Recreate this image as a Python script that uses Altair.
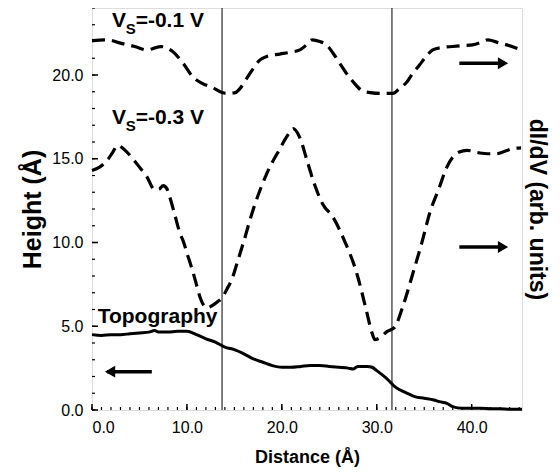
import altair as alt
import pandas as pd

# ---- data ----
topo_x = [0, 1, 2, 3, 4, 5, 6, 6.6, 7, 8, 9, 10, 11, 12, 13, 14, 15, 16, 17, 18, 19, 20,
          21, 22, 23, 24, 25, 26, 27, 27.5, 28, 29, 29.5, 30, 31, 32, 33, 33.8, 34, 35, 36,
          36.6, 37.4, 38, 39, 40, 41, 42, 43, 44, 45.3]
topo_y = [4.5, 4.45, 4.5, 4.5, 4.55, 4.6, 4.65, 4.75, 4.65, 4.65, 4.7, 4.7, 4.5, 4.25,
          4.05, 3.75, 3.6, 3.35, 3.05, 2.85, 2.65, 2.55, 2.55, 2.6, 2.65, 2.65, 2.6, 2.55,
          2.5, 2.45, 2.6, 2.6, 2.55, 2.35, 1.9, 1.35, 1.05, 0.85, 0.8, 0.7, 0.6, 0.5, 0.4,
          0.2, 0.1, 0.1, 0.1, 0.08, 0.08, 0.05, 0.05]

v01_x = [0, 1.6, 3, 4.5, 5.8, 7.2, 8.5, 9.6, 10.6, 11.6, 12.7, 13.7, 14.2, 15.1, 15.6,
         16.3, 17, 17.7, 18.4, 19.8, 20.8, 21.9, 22.6, 23.2, 24.0, 24.7, 25.4, 26.1, 26.8,
         27.5, 28.5, 29.3, 30.3, 31.7, 32.4, 33.2, 33.8, 34.5, 35.2, 35.9, 37, 38, 39,
         40.1, 41, 41.7, 42.7, 43.7, 45.2]
v01_y = [22.05, 22.1, 21.9, 21.7, 21.5, 21.7, 21.4, 20.7, 19.9, 19.5, 19.25, 18.95, 18.9,
         18.95, 19.2, 19.8, 20.4, 20.9, 21.1, 21.25, 21.35, 21.5, 21.8, 22.1, 22.0, 21.8,
         21.3, 20.7, 20.1, 19.6, 19.05, 18.95, 18.9, 18.9, 19.2, 19.6, 20.1, 20.6, 21.1,
         21.5, 21.65, 21.7, 21.75, 21.8, 21.95, 22.1, 21.95, 21.8, 21.5]

v03_x = [0, 0.8, 1.6, 2.2, 2.7, 3.3, 4.3, 5.0, 5.8, 6.6, 7.1, 7.5, 7.9, 8.2, 8.7, 9.3,
         9.6, 10.1, 10.6, 11.0, 11.4, 12.1, 12.7, 13.2, 13.7, 14.2, 14.8, 15.3, 15.9, 17,
         18.4, 19.8, 20.5, 21.2, 21.9, 22.6, 23.3, 24.3, 25.4, 26.6, 27.9, 28.9, 29.5,
         29.8, 30.3, 31, 31.9, 32.7, 33.8, 34.8, 35.6, 36.6, 37.3, 38, 38.7, 39.5, 40.8,
         41.7, 42.6, 43.5, 44.3, 45.2]
v03_y = [14.3, 14.5, 14.9, 15.4, 15.8, 15.6, 15.0, 14.5, 13.9, 13.15, 13.2, 13.4, 13.2,
         12.7, 11.7, 10.5, 10.1, 9.2, 8.3, 7.5, 6.7, 6.1, 6.25, 6.45, 6.7, 7.2, 7.9, 8.8,
         9.9, 12.0, 14.1, 15.6, 16.3, 16.8, 16.25, 15.0, 13.7, 12.3, 11.5, 10.1, 8.15,
         5.95, 4.6, 4.2, 4.3, 4.65, 4.95, 6.1, 8.15, 10.1, 11.8, 13.3, 14.4, 15.1, 15.4,
         15.5, 15.35, 15.3, 15.3, 15.45, 15.6, 15.65]

vlines = [13.7, 31.6]

# arrows: shaft start, shaft end, height, head position, head shape
arrow_x1 = [38.7, 38.7, 1.6]
arrow_x2 = [43.0, 43.0, 6.3]
arrow_y = [20.7, 9.73, 2.29]
arrow_head_x = [43.3, 43.3, 1.9]
arrow_head_shape = ["triangle-right", "triangle-right", "triangle-left"]

label_text = ["V", "S", "=-0.1 V", "V", "S", "=-0.3 V", "Topography"]
label_x = [2.1, 3.55, 4.6, 2.1, 3.55, 4.6, 0.6]
label_y = [22.85, 22.45, 22.85, 17.05, 16.65, 17.05, 5.2]
label_size = [21, 15, 21, 21, 15, 21, 21]

x_minor = list(range(0, 46))
x_major = [0, 10, 20, 30, 40]
y_minor = list(range(0, 25))
y_major = [0, 5, 10, 15, 20]

FONT = "Liberation Sans"
W, H = 430, 402

xs = alt.Scale(domain=[0, 45.3], nice=False, zero=False)
ys = alt.Scale(domain=[0, 24], nice=False, zero=False)

curves = pd.DataFrame(
    {"x": v01_x + v03_x,
     "y": v01_y + v03_y,
     "series": ["-0.1"] * len(v01_x) + ["-0.3"] * len(v03_x)}
)
topo = pd.DataFrame({"x": topo_x, "y": topo_y})
arrows = pd.DataFrame({"x1": arrow_x1, "x2": arrow_x2, "y": arrow_y,
                       "hx": arrow_head_x, "shape": arrow_head_shape})
labels = pd.DataFrame({"t": label_text, "x": label_x, "y": label_y, "s": label_size})

xn = lambda f="x": alt.X(f + ":Q", scale=xs, axis=None)
yn = lambda f="y": alt.Y(f + ":Q", scale=ys, axis=None)

vrules = alt.Chart(pd.DataFrame({"x": vlines})).mark_rule(
    color="black", strokeWidth=1).encode(x=xn())

dashed = alt.Chart(curves).mark_line(
    color="black", strokeWidth=3.2, strokeDash=[13, 7], interpolate="monotone"
).encode(
    x=xn(),
    y=alt.Y("y:Q", scale=ys, axis=alt.Axis(
        orient="right", labels=False, ticks=False, domain=False, grid=False,
        title="dI/dV (arb. units)", titleAngle=90, titleFontSize=23,
        titleFont=FONT, titleFontWeight="bold", titlePadding=2, titleColor="black")),
    detail="series:N",
)

topo_line = alt.Chart(topo).mark_line(
    color="black", strokeWidth=3, interpolate="monotone"
).encode(
    x=alt.X("x:Q", scale=xs, axis=alt.Axis(
        values=x_major, format=".1f", title="Distance (Å)", ticks=False, domain=False,
        grid=False, labelFont=FONT, labelFontSize=16, labelColor="black", labelPadding=9,
        titleFont=FONT, titleFontSize=18, titleFontWeight="bold", titleColor="black",
        titlePadding=13)),
    y=alt.Y("y:Q", scale=ys, axis=alt.Axis(
        values=y_major, format=".1f", title="Height (Å)", ticks=False, domain=False,
        grid=False, labelFont=FONT, labelFontSize=16, labelColor="black", labelPadding=9,
        titleFont=FONT, titleFontSize=25, titleFontWeight="bold", titleColor="black",
        titlePadding=6)),
)

shafts = alt.Chart(arrows).mark_rule(color="black", strokeWidth=3.5).encode(
    x=xn("x1"), x2="x2:Q", y=yn())
heads = alt.Chart(arrows).mark_point(
    filled=True, color="black", opacity=1, size=140, strokeWidth=0).encode(
    x=xn("hx"), y=yn(), shape=alt.Shape("shape:N", scale=None))

texts = alt.Chart(labels).mark_text(
    align="left", baseline="alphabetic", font=FONT, fontWeight="bold", color="black"
).encode(x=xn(), y=yn(), text="t:N", size=alt.Size("s:Q", scale=None))

xt_minor = alt.Chart(pd.DataFrame({"x": x_minor})).mark_rule(
    color="black", strokeWidth=1.2).encode(x=xn(), y=alt.value(H), y2=alt.value(H - 3))
xt_major = alt.Chart(pd.DataFrame({"x": x_major})).mark_rule(
    color="black", strokeWidth=1.5).encode(x=xn(), y=alt.value(H), y2=alt.value(H - 6))
yt_minor = alt.Chart(pd.DataFrame({"y": y_minor})).mark_rule(
    color="black", strokeWidth=1.2).encode(y=yn(), x=alt.value(0), x2=alt.value(3))
yt_major = alt.Chart(pd.DataFrame({"y": y_major})).mark_rule(
    color="black", strokeWidth=1.5).encode(y=yn(), x=alt.value(0), x2=alt.value(6))

chart = alt.layer(
    vrules, xt_minor, xt_major, yt_minor, yt_major, topo_line, dashed, shafts, heads, texts
).resolve_axis(x="independent", y="independent").properties(
    width=W, height=H,
    autosize=alt.AutoSizeParams(type="none"),
    padding={"left": 84, "top": 0, "right": 30, "bottom": 64},
).configure_view(stroke="black", strokeWidth=2).configure(font=FONT, background="white")

chart.save("out.html", embed_options={"renderer": "svg", "actions": False})
